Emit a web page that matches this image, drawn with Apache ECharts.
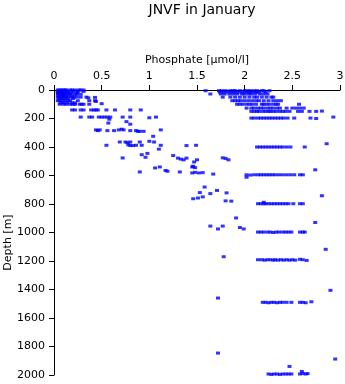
<!DOCTYPE html>
<html>
<head>
<meta charset="utf-8">
<script src="https://cdn.jsdelivr.net/npm/echarts@6/dist/echarts.min.js"></script>
<style>html,body{margin:0;padding:0;background:#fff}#chart{width:345px;height:384px}</style>
</head>
<body>
<div id="chart"></div>
<script>
// Phosphate [µmol/l] vs depth [m] : [phosphate, depth]
const surfaceLow = [
  [0.04,0],[0.06,0],[0.08,0],[0.10,0],[0.12,0],[0.13,0],[0.17,0],[0.19,0],[0.22,0],[0.26,0],[0.28,0],[0.31,0],
  [0.04,10],[0.06,10],[0.08,10],[0.10,10],[0.12,10],[0.15,10],[0.20,10],[0.25,10],[0.31,10],
  [0.04,20],[0.07,20],[0.09,20],[0.11,20],[0.14,20],[0.18,20],[0.24,20],
  [0.04,30],[0.06,30],[0.08,30],[0.11,30],[0.15,30],[0.17,30],[0.22,30],[0.24,30],[0.28,30],
  [0.05,40],[0.08,40],[0.10,40],[0.13,40],[0.19,40],
  [0.04,50],[0.07,50],[0.09,50],[0.12,50],[0.15,50],[0.18,50],[0.21,50],[0.24,50],[0.28,50],[0.34,50],[0.36,55],[0.43,52],
  [0.05,60],[0.08,60],[0.11,60],[0.14,60],[0.20,60],
  [0.04,75],[0.06,75],[0.09,75],[0.12,75],[0.15,75],[0.17,75],[0.25,75],[0.37,75],[0.43,75],[0.44,80],
  [0.07,90],[0.10,90],[0.14,90],[0.19,90],[0.22,90],
  [0.06,100],[0.10,100],[0.13,100],[0.17,100],[0.20,100],[0.22,100],[0.27,100],[0.29,100],[0.31,100],[0.37,100],[0.50,96]
];
const gradientLow = [
  [0.19,140],[0.22,140],[0.28,140],[0.31,140],[0.39,140],[0.42,140],[0.44,140],[0.46,140],[0.55,140],[0.64,140],[0.80,140],[0.91,140],
  [0.28,190],[0.37,190],[0.40,190],[0.47,190],[0.50,190],[0.53,190],[0.56,190],[0.59,190],[0.72,190],[0.80,190],[1.00,195],[1.07,190],
  [0.57,232],[0.76,222],[0.80,240],[0.58,205],
  [0.44,280],[0.46,285],[0.48,280],[0.56,285],[0.63,285],[0.68,280],[0.71,275],[0.73,280],[0.80,285],[0.86,285],[0.88,290],[0.90,290],[0.94,290],[1.12,280],
  [1.04,325],
  [0.69,365],[0.75,365],[0.77,370],[0.80,365],[0.90,365],[1.00,360],[1.05,365],[1.39,390],
  [0.55,388],[0.78,385],[0.80,390],[0.83,390],[0.86,388],[0.92,388],[1.12,388],[1.49,388],
  [1.10,415],[0.92,454],[0.98,445],[0.72,477],[0.96,472],[1.25,460],[1.30,478],[1.33,485],[1.36,490],[1.39,478],[1.47,505],[1.46,535],
  [1.06,547],[1.11,540],[1.45,540],[1.48,545],[1.83,490],[1.77,476],[1.80,480],[1.50,490],
  [1.17,565],[1.19,570],[1.32,575],[0.90,575],[1.45,582],[1.48,578],[1.52,582],[1.56,580],[1.67,590],
  [1.58,681],[1.53,720],[1.64,727],[1.71,705],[1.81,722],[1.46,763],[1.51,758],[1.56,750],[1.80,778],[1.86,780],
  [1.91,898],[1.64,955],[1.72,975],[1.77,955],[1.95,965],[1.99,975],[1.78,1170],[1.72,1460],[1.72,1846]
];
const surfaceHigh = [
  [1.59,5],[1.73,5],[1.76,5],[1.80,5],[1.85,5],[1.88,5],[1.90,5],[1.95,5],[2.00,5],[2.03,5],[2.06,5],[2.10,5],[2.13,5],[2.18,5],[2.20,5],[2.26,5],
  [1.74,15],[1.78,15],[1.82,15],[1.86,15],[1.90,15],[1.94,15],[1.98,15],[2.02,15],[2.05,15],[2.08,15],[2.12,15],[2.15,15],[2.22,15],
  [1.64,28],[1.75,28],[1.79,28],[1.84,28],[1.88,28],[1.92,28],[1.97,28],[2.00,28],[2.04,28],[2.07,28],[2.11,28],[2.16,28],[2.20,28],[2.24,28],
  [1.77,50],[1.85,50],[1.90,50],[1.95,50],[2.00,50],[2.05,50],[2.10,50],[2.13,50],[2.18,50],[2.23,50],[2.28,50],[2.30,50],
  [1.87,75],[1.90,75],[1.93,75],[1.96,75],[2.00,75],[2.04,75],[2.08,75],[2.12,75],[2.15,75],[2.20,75],[2.25,75],[2.30,75],[2.34,75],[2.38,75],
  [1.92,100],[1.95,100],[1.98,100],[2.02,100],[2.05,100],[2.08,100],[2.12,100],[2.18,100],[2.20,100],[2.23,100],[2.26,100],[2.30,100],[2.33,100],[2.35,100],[2.57,100]
];
const gradientHigh = [
  [2.02,127],[2.07,127],[2.10,127],[2.14,127],[2.17,127],[2.20,127],[2.24,127],[2.27,127],[2.30,127],[2.34,127],[2.37,127],[2.44,127],[2.50,127],[2.54,127],[2.58,127],[2.62,127],
  [2.07,150],[2.10,150],[2.13,150],[2.15,150],[2.19,150],[2.22,150],[2.25,150],[2.27,150],[2.30,150],[2.33,150],[2.37,150],[2.40,150],[2.43,150],[2.47,150],[2.56,150],[2.60,150],[2.68,150],[2.75,150],[2.81,148],
  [2.07,197],[2.10,197],[2.14,197],[2.17,197],[2.20,197],[2.23,197],[2.26,197],[2.29,197],[2.32,197],[2.35,197],[2.38,197],[2.41,197],[2.45,197],[2.52,197],[2.69,197],[2.75,200],
  [2.93,190],[2.86,377]
];
const deepBands = [
  [2.13,400],[2.16,400],[2.19,400],[2.22,400],[2.25,400],[2.28,400],[2.31,400],[2.34,400],[2.37,400],[2.40,400],[2.44,400],[2.48,400],[2.63,400],
  [2.02,595],[2.06,597],[2.10,595],[2.14,595],[2.17,595],[2.20,595],[2.23,595],[2.26,595],[2.29,595],[2.32,595],[2.36,595],[2.40,595],[2.44,595],[2.48,595],[2.52,595],[2.58,595],[2.61,595],[2.02,612],[2.74,560],
  [2.81,742],
  [2.14,798],[2.17,798],[2.20,798],[2.22,798],[2.25,798],[2.28,798],[2.31,798],[2.34,798],[2.37,798],[2.40,798],[2.43,798],[2.46,798],[2.51,798],[2.58,798],[2.61,798],[2.20,788],
  [2.74,930],
  [2.14,997],[2.17,997],[2.20,997],[2.24,997],[2.27,997],[2.30,1000],[2.33,997],[2.36,997],[2.40,997],[2.43,997],[2.46,997],[2.49,997],[2.58,997],[2.61,997],[2.63,997],
  [2.85,1118],
  [2.14,1191],[2.18,1191],[2.21,1194],[2.24,1191],[2.27,1191],[2.30,1194],[2.32,1191],[2.35,1194],[2.38,1191],[2.41,1194],[2.44,1191],[2.47,1194],[2.50,1191],[2.53,1194],[2.58,1188],[2.61,1191],[2.65,1196],
  [2.90,1406],
  [2.19,1490],[2.22,1490],[2.25,1493],[2.28,1490],[2.31,1490],[2.34,1493],[2.37,1490],[2.40,1490],[2.44,1490],[2.49,1490],[2.58,1490],[2.61,1490],[2.64,1493],[2.70,1486],
  [2.95,1888],[2.47,1940],[2.60,1975],
  [2.25,1993],[2.28,1996],[2.31,1993],[2.34,1993],[2.37,1996],[2.40,1993],[2.43,1993],[2.46,1993],[2.49,1993],[2.58,1993],[2.61,1990],[2.64,1993],[2.66,1990]
];
const xTicks = [0, 0.5, 1, 1.5, 2, 2.5, 3];
const yTicks = [0, 200, 400, 600, 800, 1000, 1200, 1400, 1600, 1800, 2000];

const font = '"DejaVu Sans", "Liberation Sans", Arial, sans-serif';
const chart = echarts.init(document.getElementById('chart'), null, {renderer: 'canvas'});
const groups = [surfaceLow, gradientLow, surfaceHigh, gradientHigh, deepBands];
chart.setOption({
  animation: false,
  backgroundColor: '#ffffff',
  title: {
    text: 'JNVF in January', left: 197, top: -2, textAlign: 'center',
    textStyle: {fontFamily: font, fontSize: 14, fontWeight: 'normal', color: '#000'}
  },
  grid: {left: 54, top: 90, width: 286, height: 285, containLabel: false, outerBoundsMode: 'none'},
  xAxis: {
    type: 'value', position: 'top', min: xTicks[0], max: xTicks[xTicks.length - 1], interval: 0.5,
    name: 'Phosphate [\u00b5mol/l]', nameLocation: 'middle', nameGap: 24, nameMoveOverlap: false,
    nameTextStyle: {fontFamily: font, fontSize: 11, color: '#000'},
    axisLine: {show: true, lineStyle: {color: '#000', width: 1}},
    axisTick: {show: true, length: 5, lineStyle: {color: '#000'}},
    axisLabel: {fontFamily: font, fontSize: 11, color: '#000', margin: 8, formatter: v => String(v)},
    splitLine: {show: false}
  },
  yAxis: {
    type: 'value', inverse: true, min: yTicks[0], max: yTicks[yTicks.length - 1], interval: 200,
    name: 'Depth [m]', nameLocation: 'middle', nameGap: 40, nameMoveOverlap: false,
    nameTextStyle: {fontFamily: font, fontSize: 11, color: '#000', padding: [0, 20, 0, 0]},
    axisLine: {show: true, lineStyle: {color: '#000', width: 1}},
    axisTick: {show: true, length: 5, lineStyle: {color: '#000'}},
    axisLabel: {fontFamily: font, fontSize: 11, color: '#000', margin: 9, formatter: v => String(v)},
    splitLine: {show: false}
  },
  series: groups.map(g => ({
    type: 'scatter', data: g, symbol: 'rect', symbolSize: [4, 3],
    itemStyle: {color: '#0000ff'}, silent: true
  }))
});
</script>
</body>
</html>
